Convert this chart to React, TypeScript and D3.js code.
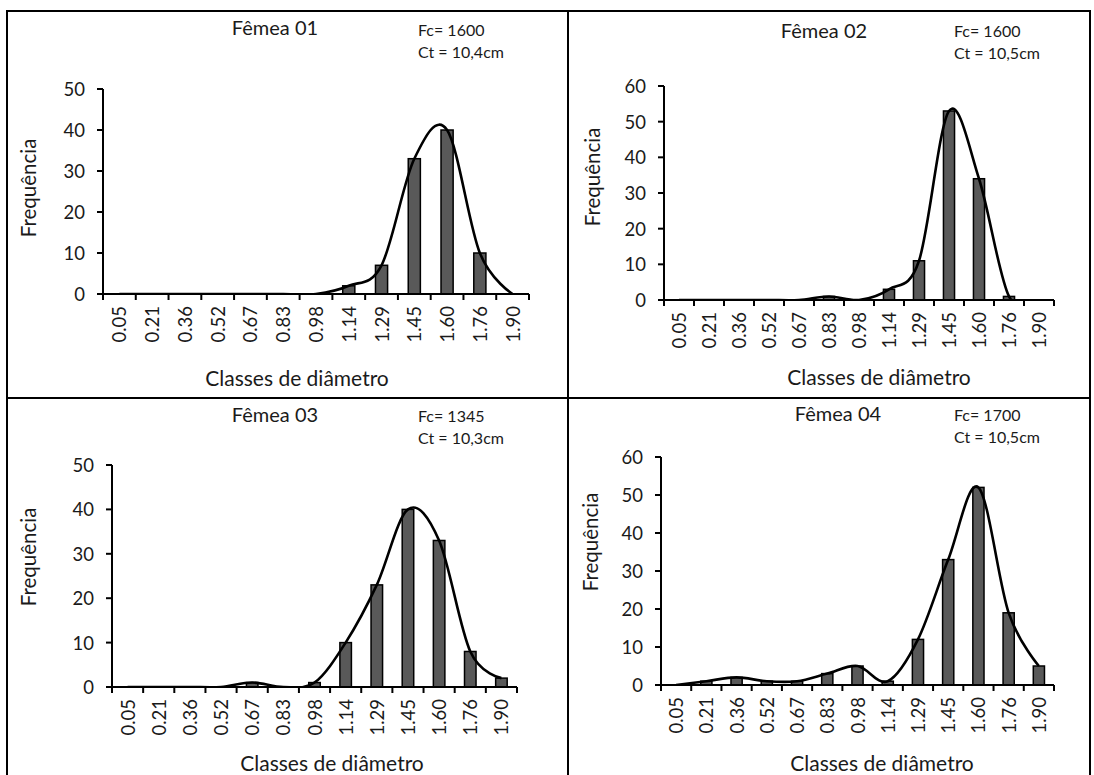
import React from "react";
import * as d3 from "d3";

// ---- data ----
const categories = ["0.05", "0.21", "0.36", "0.52", "0.67", "0.83", "0.98", "1.14", "1.29", "1.45", "1.60", "1.76", "1.90"];
const femea01 = [0, 0, 0, 0, 0, 0, 0, 2, 7, 33, 40, 10, 0];
const femea02 = [0, 0, 0, 0, 0, 1, 0, 3, 11, 53, 34, 1, 0];
const femea03 = [0, 0, 0, 0, 1, 0, 1, 10, 23, 40, 33, 8, 2];
const femea04 = [0, 1, 2, 1, 1, 3, 5, 1, 12, 33, 52, 19, 5];
const yTicks50 = [0, 10, 20, 30, 40, 50];
const yTicks60 = [0, 10, 20, 30, 40, 50, 60];
const titles = ["Fêmea 01", "Fêmea 02", "Fêmea 03", "Fêmea 04"];
const fcLabels = ["Fc= 1600", "Fc= 1600", "Fc= 1345", "Fc= 1700"];
const ctLabels = ["Ct = 10,4cm", "Ct = 10,5cm", "Ct = 10,3cm", "Ct = 10,5cm"];
const yAxisTitle = "Frequência";
const xAxisTitle = "Classes de diâmetro";

const seriesList = [femea01, femea02, femea03, femea04];
const tickList = [yTicks50, yTicks60, yTicks50, yTicks60];

// ---- layout ----
const layouts = [
  { ax: 103, ay0: 294, ayTop: 89, axEnd: 529, title: [275, 35], fc: [418, 36], ct: [418, 58], yt: [28, 188], xt: [297, 386] },
  { ax: 664, ay0: 300, ayTop: 86, axEnd: 1054, title: [824, 38], fc: [954, 37], ct: [954, 59], yt: [592, 177], xt: [879, 385] },
  { ax: 112, ay0: 687, ayTop: 465, axEnd: 517, title: [275, 422], fc: [418, 422], ct: [418, 444], yt: [28, 557], xt: [332, 771] },
  { ax: 661, ay0: 685, ayTop: 457, axEnd: 1054, title: [838, 421], fc: [954, 421], ct: [954, 443], yt: [590, 542], xt: [882, 771] },
];

const FONT = "Lato, 'Open Sans', sans-serif";
const TEXT = "#1a1a1a";

function Panel({ idx }: { idx: number }) {
  const L = layouts[idx];
  const values = seriesList[idx];
  const ticks = tickList[idx];
  const yMax = ticks[ticks.length - 1];
  const x = d3.scaleBand<string>().domain(categories).range([L.ax, L.axEnd]).paddingInner(0).paddingOuter(0);
  const y = d3.scaleLinear().domain([0, yMax]).range([L.ay0, L.ayTop]);
  const bw = x.bandwidth() * 0.37;
  const pts: [number, number][] = categories.map((c, i) => [(x(c) as number) + x.bandwidth() / 2, y(values[i])]);
  const line = d3.line().curve(d3.curveCardinal.tension(0))(pts) || "";
  const boundaries = categories.map((c) => x(c) as number).concat([L.axEnd]);
  const clipId = `plotclip-${idx}`;
  return (
    <g>
      <defs>
        <clipPath id={clipId}>
          <rect x={L.ax} y={L.ayTop - 20} width={L.axEnd - L.ax + 4} height={L.ay0 - L.ayTop + 21} />
        </clipPath>
      </defs>
      {/* bars */}
      {categories.map((c, i) =>
        values[i] > 0 ? (
          <rect
            key={c}
            x={(x(c) as number) + x.bandwidth() / 2 - bw / 2}
            y={y(values[i])}
            width={bw}
            height={L.ay0 - y(values[i])}
            fill="#595959"
            stroke="#000"
            strokeWidth={1.5}
          />
        ) : null
      )}
      {/* curve */}
      <path d={line} fill="none" stroke="#000" strokeWidth={2.6} clipPath={`url(#${clipId})`} />
      {/* y axis */}
      <line x1={L.ax} x2={L.ax} y1={L.ayTop} y2={L.ay0} stroke="#000" strokeWidth={2} />
      {ticks.map((t) => (
        <g key={t}>
          <line x1={L.ax - 6} x2={L.ax} y1={y(t)} y2={y(t)} stroke="#000" strokeWidth={2} />
          <text x={L.ax - 18} y={y(t)} textAnchor="end" dominantBaseline="central" fontFamily={FONT} fontSize={18.5} fill={TEXT}>
            {t}
          </text>
        </g>
      ))}
      {/* x axis */}
      <line x1={L.ax} x2={L.axEnd} y1={L.ay0} y2={L.ay0} stroke="#000" strokeWidth={2} />
      {boundaries.map((b, i) => (
        <line key={i} x1={b} x2={b} y1={L.ay0} y2={L.ay0 + 6} stroke="#000" strokeWidth={2} />
      ))}
      {categories.map((c) => {
        const cx = (x(c) as number) + x.bandwidth() / 2;
        const cy = L.ay0 + 12;
        return (
          <text
            key={c}
            transform={`translate(${cx},${cy}) rotate(-90)`}
            textAnchor="end"
            dominantBaseline="central"
            fontFamily={FONT}
            fontSize={18.5}
            fill={TEXT}
          >
            {c}
          </text>
        );
      })}
      {/* titles */}
      <text x={L.title[0]} y={L.title[1]} textAnchor="middle" fontFamily={FONT} fontSize={20} fill={TEXT}>
        {titles[idx]}
      </text>
      <text x={L.fc[0]} y={L.fc[1]} fontFamily={FONT} fontSize={16} fill={TEXT}>
        {fcLabels[idx]}
      </text>
      <text x={L.ct[0]} y={L.ct[1]} fontFamily={FONT} fontSize={16} fill={TEXT}>
        {ctLabels[idx]}
      </text>
      <text
        transform={`translate(${L.yt[0]},${L.yt[1]}) rotate(-90)`}
        textAnchor="middle"
        dominantBaseline="central"
        fontFamily={FONT}
        fontSize={20.5}
        fill={TEXT}
      >
        {yAxisTitle}
      </text>
      <text x={L.xt[0]} y={L.xt[1]} textAnchor="middle" fontFamily={FONT} fontSize={21} fill={TEXT}>
        {xAxisTitle}
      </text>
    </g>
  );
}

export default function App() {
  return (
    <svg
      width={1094}
      height={775}
      viewBox="0 0 1094 775"
      style={{ position: "absolute", left: 0, top: 0, background: "#fff" }}
    >
      <rect x={0} y={0} width={1094} height={775} fill="#fff" />
      {/* frame lines */}
      <line x1={7} x2={1090} y1={11} y2={11} stroke="#000" strokeWidth={2} />
      <line x1={7} x2={7} y1={10} y2={775} stroke="#000" strokeWidth={2} />
      <line x1={1090} x2={1090} y1={10} y2={775} stroke="#000" strokeWidth={2} />
      <line x1={568} x2={568} y1={10} y2={775} stroke="#000" strokeWidth={2} />
      <line x1={7} x2={1090} y1={398} y2={398} stroke="#000" strokeWidth={2} />
      {[0, 1, 2, 3].map((i) => (
        <Panel key={i} idx={i} />
      ))}
    </svg>
  );
}
